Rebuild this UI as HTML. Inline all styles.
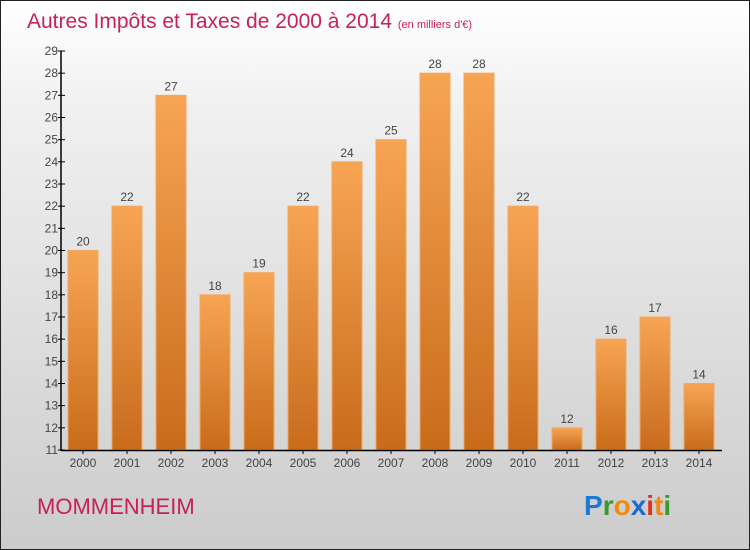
<!DOCTYPE html>
<html><head><meta charset="utf-8"><style>
body{margin:0}
#c{position:relative;width:748px;height:548px;border:1px solid #222;background:linear-gradient(#fff,#f0f0f0 20%,#ccc);font-family:"Liberation Sans",sans-serif;overflow:hidden}
</style></head><body>
<div id="c">
<svg id="s" width="748" height="548" style="position:absolute;left:0;top:0">
<defs><linearGradient id="g" x1="0" y1="0" x2="0" y2="1"><stop offset="0" stop-color="#f7a553"/><stop offset="1" stop-color="#c86c1c"/></linearGradient></defs>
<text x="26" y="27" font-size="21" fill="#c8205a">Autres Impôts et Taxes de 2000 à 2014 <tspan font-size="11">(en milliers d'€)</tspan></text>
<text x="36" y="513" font-size="22" fill="#c8205a">MOMMENHEIM</text>
<text x="583" y="514" font-size="28" font-weight="bold"><tspan fill="#1a7ad6">P</tspan><tspan fill="#3a9a30">r</tspan><tspan fill="#f08a10">o</tspan><tspan fill="#1a6ad6">x</tspan><tspan fill="#e03020">i</tspan><tspan fill="#f08a10">t</tspan><tspan fill="#3a9a30">i</tspan></text>
</svg>
</div>
<script>
const years=["2000","2001","2002","2003","2004","2005","2006","2007","2008","2009","2010","2011","2012","2013","2014"];
const values=[20,22,27,18,19,22,24,25,28,28,22,12,16,17,14];
const yTicks=[11,12,13,14,15,16,17,18,19,20,21,22,23,24,25,26,27,28,29];
const s=document.getElementById('s');const NS='http://www.w3.org/2000/svg';
const x0=60,band=44,yMin=11,yMax=29,yb=449,yt=50;
const y=v=>yb-(v-yMin)/(yMax-yMin)*(yb-yt);
function mk(t,a,p){const e=document.createElementNS(NS,t);for(const k in a)e.setAttribute(k,a[k]);(p||s).appendChild(e);return e;}
years.forEach((yr,i)=>{
 const cx=x0+band*i+band/2,v=values[i];
 const r=mk('rect',{x:cx-15,y:y(v),width:30,height:yb-y(v),fill:'url(#g)',stroke:'#f0a860','stroke-width':1});
 
 
 const t=mk('text',{x:cx,y:y(v)-5,'text-anchor':'middle','font-size':12,fill:'#444'});t.textContent=v;
 
 
 const xl=mk('text',{x:cx,y:466,'text-anchor':'middle','font-size':12,fill:'#444'});xl.textContent=yr;
 
 
 mk('line',{x1:cx,x2:cx,y1:yb,y2:yb+4,stroke:'#000'});
});
yTicks.forEach(v=>{
 mk('line',{x1:57,x2:64,y1:y(v),y2:y(v),stroke:'#000'});
 const t=mk('text',{x:57,y:y(v)+4,'text-anchor':'end','font-size':12,fill:'#444'});t.textContent=v;
 
 
});
const ya=mk('line',{x1:60,x2:60,y1:yt,y2:yb+1,stroke:'#000','stroke-width':1.5});


const xa=mk('line',{x1:60,x2:721,y1:yb+0.5,y2:yb+0.5,stroke:'#000','stroke-width':1.5});


</script>
</body></html>
